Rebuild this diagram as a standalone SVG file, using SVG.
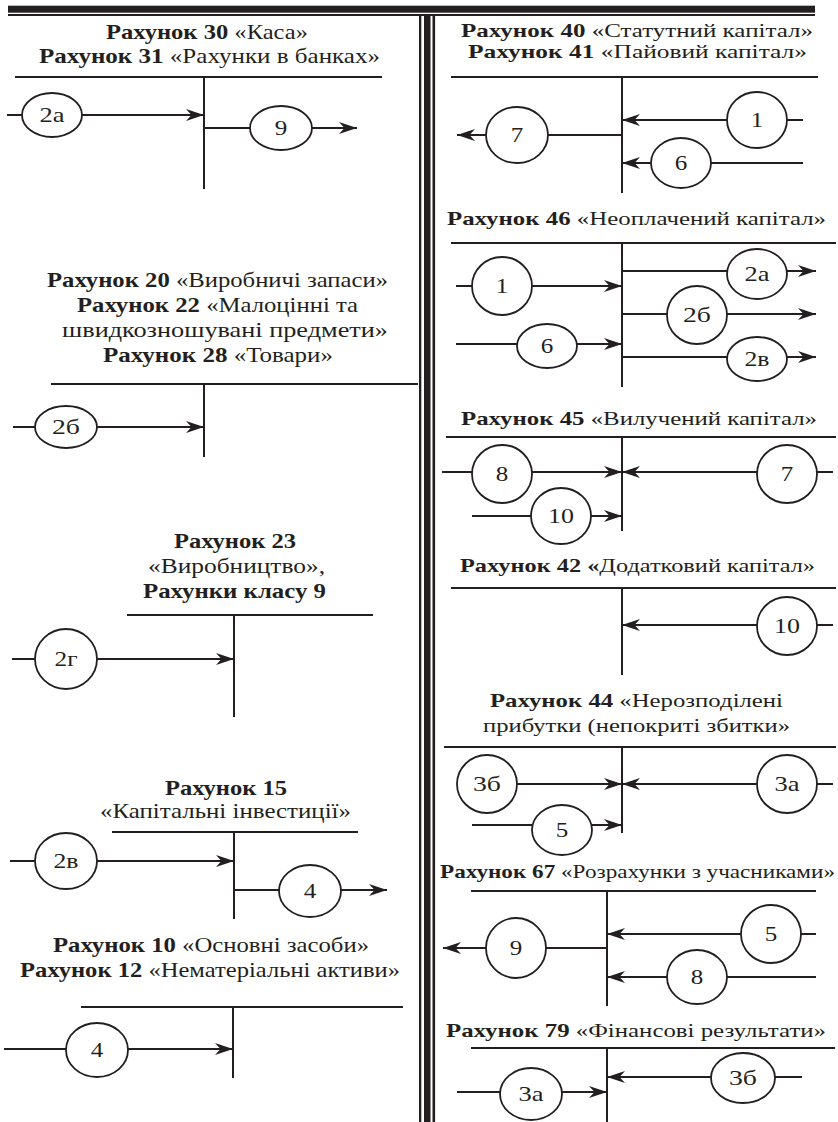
<svg xmlns="http://www.w3.org/2000/svg" width="838" height="1122" viewBox="0 0 838 1122" font-family="'Liberation Serif', 'Times New Roman', serif">
  <defs>
    <marker id="arr" markerUnits="userSpaceOnUse" markerWidth="20" markerHeight="14" refX="18" refY="6" orient="auto" overflow="visible">
      <path d="M0,0 L18,6 L0,12 L5.5,6 Z" fill="#231f20"/>
    </marker>
  </defs>
  <style>
    text { font-family: 'Liberation Serif', 'Times New Roman', serif; }
    .t { fill: #231f20; text-anchor: middle; }
    .tl { font-size: 21px; }
    .tr { font-size: 19.5px; }
    .b { font-weight: bold; }
    .acc { stroke: #231f20; stroke-width: 2; fill: none; }
    .ar { stroke: #231f20; stroke-width: 2; fill: none; marker-end: url(#arr); }
    .c { fill: #ffffff; stroke: #231f20; stroke-width: 1.8; }
    .n { font-size: 22px; fill: #231f20; text-anchor: middle; }
  </style>
  <rect width="838" height="1122" fill="#ffffff"/>

  <!-- page frame: top rule and column divider -->
  <g id="frame" fill="#231f20">
    <rect x="8" y="5.7" width="807" height="7"/>
    <rect x="8" y="14" width="807" height="2"/>
    <rect x="419" y="16" width="2.3" height="1106"/>
    <rect x="424" y="16" width="6.5" height="1106"/>
    <rect x="432.5" y="16" width="2.6" height="1106"/>
  </g>

  <!-- left column T-accounts -->
  <g id="acc-30-31">
    <text class="t tl" x="207" y="39" textLength="202" lengthAdjust="spacingAndGlyphs"><tspan class="b">Рахунок 30</tspan> «Каса»</text>
    <text class="t tl" x="209.5" y="63" textLength="341" lengthAdjust="spacingAndGlyphs"><tspan class="b">Рахунок 31</tspan> «Рахунки в банках»</text>
    <path class="acc" d="M15,77 H382 M204,77 V189"/>
  </g>
  <g id="acc-20-22-28">
    <text class="t tl" x="217.5" y="287" textLength="341" lengthAdjust="spacingAndGlyphs"><tspan class="b">Рахунок 20</tspan> «Виробничі запаси»</text>
    <text class="t tl" x="217.5" y="312" textLength="281" lengthAdjust="spacingAndGlyphs"><tspan class="b">Рахунок 22</tspan> «Малоцінні та</text>
    <text class="t tl" x="225" y="337" textLength="326" lengthAdjust="spacingAndGlyphs">швидкозношувані предмети»</text>
    <text class="t tl" x="218" y="362" textLength="230" lengthAdjust="spacingAndGlyphs"><tspan class="b">Рахунок 28</tspan> «Товари»</text>
    <path class="acc" d="M51,384 H418 M204,384 V457"/>
  </g>
  <g id="acc-23">
    <text class="t tl b" x="235" y="548" textLength="122" lengthAdjust="spacingAndGlyphs">Рахунок 23</text>
    <text class="t tl" x="236.5" y="573" textLength="177" lengthAdjust="spacingAndGlyphs">«Виробництво»,</text>
    <text class="t tl b" x="234.5" y="598" textLength="183" lengthAdjust="spacingAndGlyphs">Рахунки класу 9</text>
    <path class="acc" d="M127,615 H373 M234,615 V717"/>
  </g>
  <g id="acc-15">
    <text class="t tl b" x="226" y="795" textLength="122" lengthAdjust="spacingAndGlyphs">Рахунок 15</text>
    <text class="t tl" x="225.5" y="818" textLength="251" lengthAdjust="spacingAndGlyphs">«Капітальні інвестиції»</text>
    <path class="acc" d="M112,832 H358 M234,832 V919"/>
  </g>
  <g id="acc-10-12">
    <text class="t tl" x="211" y="952" textLength="316" lengthAdjust="spacingAndGlyphs"><tspan class="b">Рахунок 10</tspan> «Основні засоби»</text>
    <text class="t tl" x="210" y="977" textLength="380" lengthAdjust="spacingAndGlyphs"><tspan class="b">Рахунок 12</tspan> «Нематеріальні активи»</text>
    <path class="acc" d="M81,1007 H403 M233,1007 V1078"/>
  </g>

  <!-- right column T-accounts -->
  <g id="acc-40-41">
    <text class="t tr" x="637" y="37" textLength="352" lengthAdjust="spacingAndGlyphs"><tspan class="b">Рахунок 40</tspan> «Статутний капітал»</text>
    <text class="t tr" x="637.5" y="58" textLength="339" lengthAdjust="spacingAndGlyphs"><tspan class="b">Рахунок 41</tspan> «Пайовий капітал»</text>
    <path class="acc" d="M451,77 H818 M622,77 V193"/>
  </g>
  <g id="acc-46">
    <text class="t tr" x="636.5" y="225" textLength="379" lengthAdjust="spacingAndGlyphs"><tspan class="b">Рахунок 46</tspan> «Неоплачений капітал»</text>
    <path class="acc" d="M451,243 H836 M622,243 V387"/>
  </g>
  <g id="acc-45">
    <text class="t tr" x="639" y="425" textLength="356" lengthAdjust="spacingAndGlyphs"><tspan class="b">Рахунок 45</tspan> «Вилучений капітал»</text>
    <path class="acc" d="M446,437 H836 M622,437 V531"/>
  </g>
  <g id="acc-42">
    <text class="t tr" x="637.5" y="572" textLength="355" lengthAdjust="spacingAndGlyphs"><tspan class="b">Рахунок 42 «</tspan>Додатковий капітал»</text>
    <path class="acc" d="M451,588 H836 M622,588 V675"/>
  </g>
  <g id="acc-44">
    <text class="t tr" x="636.5" y="707" textLength="293" lengthAdjust="spacingAndGlyphs"><tspan class="b">Рахунок 44</tspan> «Нерозподілені</text>
    <text class="t tr" x="636.5" y="732" textLength="307" lengthAdjust="spacingAndGlyphs">прибутки (непокриті збитки»</text>
    <path class="acc" d="M444,747 H836 M622,747 V833"/>
  </g>
  <g id="acc-67">
    <text class="t tr" x="637.5" y="878" textLength="395" lengthAdjust="spacingAndGlyphs"><tspan class="b">Рахунок 67</tspan> «Розрахунки з учасниками»</text>
    <path class="acc" d="M471,891 H816 M607,891 V1006"/>
  </g>
  <g id="acc-79">
    <text class="t tr" x="636" y="1037" textLength="380" lengthAdjust="spacingAndGlyphs"><tspan class="b">Рахунок 79</tspan> «Фінансові результати»</text>
    <path class="acc" d="M471,1048 H835 M607,1048 V1122"/>
  </g>

  <!-- postings: arrow lines, then numbered ellipses on top -->
  <g id="connectors">
    <g id="lines">
      <!-- left column -->
      <line class="ar" x1="7" y1="115" x2="204" y2="115"/>
      <line class="ar" x1="204" y1="128" x2="357" y2="128"/>
      <line class="ar" x1="13" y1="427" x2="204" y2="427"/>
      <line class="ar" x1="12" y1="659" x2="234" y2="659"/>
      <line class="ar" x1="10" y1="861" x2="234" y2="861"/>
      <line class="ar" x1="234" y1="890" x2="387" y2="890"/>
      <line class="ar" x1="4" y1="1049" x2="233" y2="1049"/>
      <!-- acc 40/41 -->
      <line class="ar" x1="803" y1="120" x2="622" y2="120"/>
      <line class="ar" x1="803" y1="163" x2="622" y2="163"/>
      <line class="ar" x1="622" y1="135" x2="457" y2="135"/>
      <!-- acc 46 -->
      <line class="ar" x1="456" y1="286" x2="622" y2="286"/>
      <line class="ar" x1="456" y1="344" x2="622" y2="344"/>
      <line class="ar" x1="622" y1="271" x2="816" y2="271"/>
      <line class="ar" x1="622" y1="314" x2="816" y2="314"/>
      <line class="ar" x1="622" y1="357" x2="816" y2="357"/>
      <!-- acc 45 -->
      <line class="ar" x1="442" y1="472" x2="622" y2="472"/>
      <line class="ar" x1="472" y1="516" x2="622" y2="516"/>
      <line class="ar" x1="833" y1="472" x2="622" y2="472"/>
      <!-- acc 42 -->
      <line class="ar" x1="833" y1="625" x2="622" y2="625"/>
      <!-- acc 44 -->
      <line class="ar" x1="517" y1="784" x2="622" y2="784"/>
      <line class="ar" x1="472" y1="825" x2="622" y2="825"/>
      <line class="ar" x1="833" y1="784" x2="622" y2="784"/>
      <!-- acc 67 -->
      <line class="ar" x1="816" y1="934" x2="607" y2="934"/>
      <line class="ar" x1="816" y1="977" x2="607" y2="977"/>
      <line class="ar" x1="607" y1="948" x2="443" y2="948"/>
      <!-- acc 79 -->
      <line class="ar" x1="457" y1="1092" x2="607" y2="1092"/>
      <line class="ar" x1="802" y1="1077" x2="607" y2="1077"/>
    </g>
    <g id="labels">
      <ellipse class="c" cx="52" cy="115" rx="30" ry="22"/><text class="n" x="52" y="122" textLength="25" lengthAdjust="spacingAndGlyphs">2а</text>
      <ellipse class="c" cx="281" cy="128" rx="31" ry="22"/><text class="n" x="281" y="135" textLength="12.5" lengthAdjust="spacingAndGlyphs">9</text>
      <ellipse class="c" cx="66" cy="427" rx="31" ry="21"/><text class="n" x="66" y="434" textLength="28" lengthAdjust="spacingAndGlyphs">2б</text>
      <ellipse class="c" cx="66" cy="659" rx="31" ry="30"/><text class="n" x="66" y="666" textLength="23" lengthAdjust="spacingAndGlyphs">2г</text>
      <ellipse class="c" cx="66" cy="861" rx="31" ry="28"/><text class="n" x="66" y="868" textLength="25" lengthAdjust="spacingAndGlyphs">2в</text>
      <ellipse class="c" cx="310" cy="891" rx="31" ry="26"/><text class="n" x="310" y="898" textLength="12.5" lengthAdjust="spacingAndGlyphs">4</text>
      <ellipse class="c" cx="97" cy="1050" rx="31" ry="27"/><text class="n" x="97" y="1057" textLength="12.5" lengthAdjust="spacingAndGlyphs">4</text>

      <ellipse class="c" cx="757" cy="120" rx="30" ry="28"/><text class="n" x="757" y="127" textLength="12.5" lengthAdjust="spacingAndGlyphs">1</text>
      <ellipse class="c" cx="681" cy="163" rx="30" ry="25"/><text class="n" x="681" y="170" textLength="12.5" lengthAdjust="spacingAndGlyphs">6</text>
      <ellipse class="c" cx="517" cy="135" rx="31" ry="28"/><text class="n" x="517" y="142" textLength="12.5" lengthAdjust="spacingAndGlyphs">7</text>

      <ellipse class="c" cx="502" cy="286" rx="30" ry="29"/><text class="n" x="502" y="293" textLength="12.5" lengthAdjust="spacingAndGlyphs">1</text>
      <ellipse class="c" cx="547" cy="346" rx="30" ry="22"/><text class="n" x="547" y="353" textLength="12.5" lengthAdjust="spacingAndGlyphs">6</text>
      <ellipse class="c" cx="757" cy="274" rx="30" ry="25"/><text class="n" x="757" y="281" textLength="25" lengthAdjust="spacingAndGlyphs">2а</text>
      <ellipse class="c" cx="697" cy="315" rx="30" ry="29"/><text class="n" x="697" y="322" textLength="28" lengthAdjust="spacingAndGlyphs">2б</text>
      <ellipse class="c" cx="757" cy="359" rx="30" ry="22"/><text class="n" x="757" y="366" textLength="25" lengthAdjust="spacingAndGlyphs">2в</text>

      <ellipse class="c" cx="502" cy="474" rx="30" ry="29"/><text class="n" x="502" y="481" textLength="12.5" lengthAdjust="spacingAndGlyphs">8</text>
      <ellipse class="c" cx="561" cy="516" rx="30" ry="28"/><text class="n" x="561" y="523" textLength="26" lengthAdjust="spacingAndGlyphs">10</text>
      <ellipse class="c" cx="787" cy="474" rx="30" ry="29"/><text class="n" x="787" y="481" textLength="12.5" lengthAdjust="spacingAndGlyphs">7</text>

      <ellipse class="c" cx="787" cy="626" rx="30" ry="29"/><text class="n" x="787" y="633" textLength="26" lengthAdjust="spacingAndGlyphs">10</text>

      <ellipse class="c" cx="487" cy="784" rx="30" ry="29"/><text class="n" x="487" y="791" textLength="28" lengthAdjust="spacingAndGlyphs">3б</text>
      <ellipse class="c" cx="562" cy="830" rx="30" ry="25"/><text class="n" x="562" y="837" textLength="12.5" lengthAdjust="spacingAndGlyphs">5</text>
      <ellipse class="c" cx="787" cy="784" rx="30" ry="29"/><text class="n" x="787" y="791" textLength="25" lengthAdjust="spacingAndGlyphs">3а</text>

      <ellipse class="c" cx="771" cy="934" rx="30" ry="29"/><text class="n" x="771" y="941" textLength="12.5" lengthAdjust="spacingAndGlyphs">5</text>
      <ellipse class="c" cx="697" cy="977" rx="30" ry="27"/><text class="n" x="697" y="984" textLength="12.5" lengthAdjust="spacingAndGlyphs">8</text>
      <ellipse class="c" cx="516" cy="948" rx="30" ry="30"/><text class="n" x="516" y="955" textLength="12.5" lengthAdjust="spacingAndGlyphs">9</text>

      <ellipse class="c" cx="531" cy="1094" rx="31" ry="26"/><text class="n" x="531" y="1101" textLength="25" lengthAdjust="spacingAndGlyphs">3а</text>
      <ellipse class="c" cx="743" cy="1078" rx="32" ry="25"/><text class="n" x="743" y="1085" textLength="28" lengthAdjust="spacingAndGlyphs">3б</text>
    </g>
  </g>
</svg>
